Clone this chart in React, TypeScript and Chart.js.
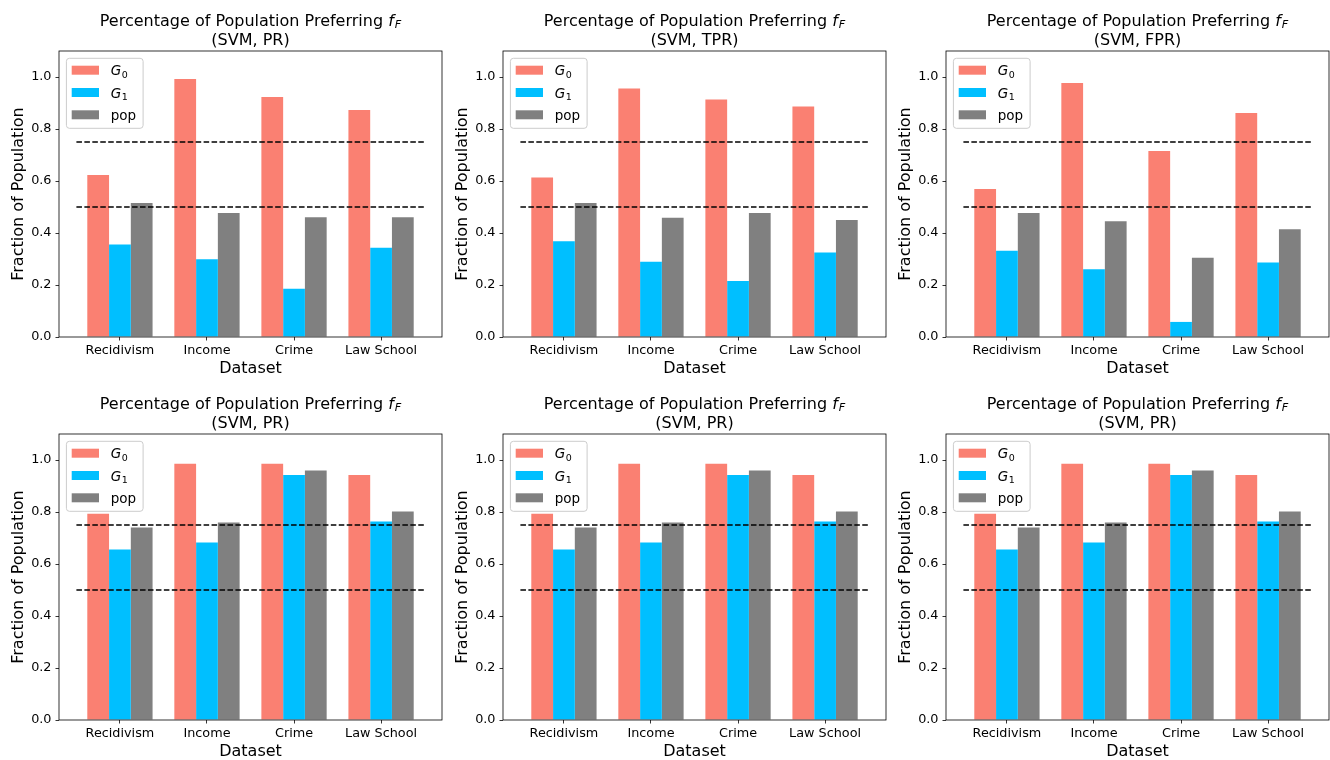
import { useEffect, useRef } from 'react';
import { Chart, registerables } from 'chart.js';

Chart.register(...registerables);

// ---- data ----
const CATEGORIES = ['Recidivism', 'Income', 'Crime', 'Law School'];
const CATEGORY_X = [0, 1, 2, 3];
const Y_TICKS = [0, 0.2, 0.4, 0.6, 0.8, 1.0];
const THRESHOLDS = [0.75, 0.5];
const THRESHOLD_SPAN = [-0.5, 3.5];
const X_RANGE = [-0.7, 3.7];
const Y_RANGE = [0, 1.1];

const PR_G0 = [0.623, 0.992, 0.923, 0.873];
const PR_G1 = [0.356, 0.299, 0.186, 0.343];
const PR_POP = [0.515, 0.477, 0.461, 0.461];

const TPR_G0 = [0.613, 0.956, 0.913, 0.887];
const TPR_G1 = [0.368, 0.289, 0.215, 0.325];
const TPR_POP = [0.515, 0.459, 0.477, 0.45];

const FPR_G0 = [0.569, 0.977, 0.715, 0.862];
const FPR_G1 = [0.332, 0.261, 0.058, 0.287];
const FPR_POP = [0.477, 0.445, 0.305, 0.414];

const PR2_G0 = [0.793, 0.986, 0.986, 0.942];
const PR2_G1 = [0.656, 0.683, 0.942, 0.763];
const PR2_POP = [0.74, 0.76, 0.96, 0.802];

const SERIES_COLORS = ['#FA8072', '#00BFFF', '#808080'];
const LEGEND_ITEMS = [
  { main: 'G', sub: '0', italic: true },
  { main: 'G', sub: '1', italic: true },
  { main: 'pop', sub: '', italic: false },
];

type Panel = { subtitle: string; g0: number[]; g1: number[]; pop: number[] };

const PANELS: Panel[] = [
  { subtitle: '(SVM, PR)', g0: PR_G0, g1: PR_G1, pop: PR_POP },
  { subtitle: '(SVM, TPR)', g0: TPR_G0, g1: TPR_G1, pop: TPR_POP },
  { subtitle: '(SVM, FPR)', g0: FPR_G0, g1: FPR_G1, pop: FPR_POP },
  { subtitle: '(SVM, PR)', g0: PR2_G0, g1: PR2_G1, pop: PR2_POP },
  { subtitle: '(SVM, PR)', g0: PR2_G0, g1: PR2_G1, pop: PR2_POP },
  { subtitle: '(SVM, PR)', g0: PR2_G0, g1: PR2_G1, pop: PR2_POP },
];

// ---- layout ----
const CANVAS_W = 444;
const CANVAS_H = 377;
const COL_LEFT = [0, 444, 887];
const ROW_TOP = [0, 383];
const FONT = '"DejaVu Sans", sans-serif';
const TICK_SIZE = 12.8;

function decorPlugin(subtitle: string) {
  return {
    id: 'panelDecor',
    afterDatasetsDraw(chart: any) {
      const { ctx, chartArea: a } = chart;
      ctx.save();

      // axes frame
      ctx.strokeStyle = '#000';
      ctx.lineWidth = 0.8;
      ctx.strokeRect(a.left, a.top, a.right - a.left, a.bottom - a.top);

      // legend
      const bx = a.left + 7.4;
      const by = a.top + 7.3;
      const bw = 76.7;
      const bh = 70;
      ctx.beginPath();
      ctx.roundRect(bx, by, bw, bh, 3);
      ctx.fillStyle = 'rgba(255,255,255,0.8)';
      ctx.fill();
      ctx.strokeStyle = '#cccccc';
      ctx.lineWidth = 1;
      ctx.stroke();
      const rows = [11.9, 34.2, 56.5];
      LEGEND_ITEMS.forEach((item, i) => {
        const cy = by + rows[i];
        ctx.fillStyle = SERIES_COLORS[i];
        ctx.fillRect(bx + 5.3, cy - 4.5, 27.3, 9);
        ctx.fillStyle = '#000';
        ctx.textBaseline = 'alphabetic';
        ctx.textAlign = 'left';
        let tx = bx + 44.3;
        ctx.font = `${item.italic ? 'italic ' : ''}13.5px ${FONT}`;
        ctx.fillText(item.main, tx, cy + 5);
        tx += ctx.measureText(item.main).width;
        if (item.sub) {
          ctx.font = `9.5px ${FONT}`;
          ctx.fillText(item.sub, tx + 0.5, cy + 7.3);
        }
      });

      // title
      const cx = (a.left + a.right) / 2;
      const main = 'Percentage of Population Preferring ';
      ctx.fillStyle = '#000';
      ctx.textAlign = 'left';
      ctx.textBaseline = 'alphabetic';
      ctx.font = `16px ${FONT}`;
      const w1 = ctx.measureText(main).width;
      ctx.font = `italic 16px ${FONT}`;
      const wf = ctx.measureText('f').width;
      ctx.font = `italic 11.2px ${FONT}`;
      const wF = ctx.measureText('F').width;
      let x = cx - (w1 + wf + wF + 1) / 2;
      const y1 = a.top - 25;
      ctx.font = `16px ${FONT}`;
      ctx.fillText(main, x, y1);
      x += w1;
      ctx.font = `italic 16px ${FONT}`;
      ctx.fillText('f', x, y1);
      x += wf + 1;
      ctx.font = `italic 11.2px ${FONT}`;
      ctx.fillText('F', x, y1 + 2);
      ctx.font = `16px ${FONT}`;
      ctx.textAlign = 'center';
      ctx.fillText(subtitle, cx, a.top - 6);

      ctx.restore();
    },
  };
}

function PanelChart({ panel }: { panel: Panel }) {
  const ref = useRef<HTMLCanvasElement>(null);
  useEffect(() => {
    if (!ref.current) return;
    const series = [panel.g0, panel.g1, panel.pop];
    const barSets = series.map((vals, i) => ({
      type: 'bar' as const,
      data: CATEGORY_X.map((x, j) => ({ x, y: vals[j] })),
      backgroundColor: SERIES_COLORS[i],
      borderWidth: 0,
      categoryPercentage: 0.75,
      barPercentage: 1,
      order: 1,
    }));
    const lineSets = THRESHOLDS.map((t) => ({
      type: 'line' as const,
      data: THRESHOLD_SPAN.map((x) => ({ x, y: t })),
      borderColor: '#000',
      borderWidth: 1.5,
      borderDash: [5.55, 2.4],
      pointRadius: 0,
      fill: false,
      order: 0,
    }));
    const chart = new Chart(ref.current, {
      type: 'bar',
      data: { datasets: [...barSets, ...lineSets] as any },
      options: {
        animation: false,
        responsive: false,
        layout: { padding: { top: 51, left: 0, right: 2, bottom: 0 } },
        plugins: { legend: { display: false }, tooltip: { enabled: false } },
        scales: {
          x: {
            type: 'linear',
            min: X_RANGE[0],
            max: X_RANGE[1],
            offset: false,
            afterBuildTicks: (s: any) => {
              s.ticks = CATEGORY_X.map((v) => ({ value: v }));
            },
            afterFit: (s: any) => {
              s.height = 40;
            },
            grid: {
              display: true,
              offset: false,
              drawOnChartArea: false,
              drawTicks: true,
              tickLength: 3.5,
              color: '#000',
              lineWidth: 0.8,
            },
            border: { display: false },
            ticks: {
              autoSkip: false,
              maxRotation: 0,
              padding: 2.4,
              color: '#000',
              font: { family: FONT, size: TICK_SIZE },
              callback: (v: any) => CATEGORIES[CATEGORY_X.indexOf(Number(v))] ?? '',
            },
            title: {
              display: true,
              text: 'Dataset',
              color: '#000',
              font: { family: FONT, size: 16, lineHeight: 1.0 },
              padding: { top: 0, bottom: 0 },
            },
          },
          y: {
            type: 'linear',
            min: Y_RANGE[0],
            max: Y_RANGE[1],
            afterBuildTicks: (s: any) => {
              s.ticks = Y_TICKS.map((v) => ({ value: v }));
            },
            afterFit: (s: any) => {
              s.width = 59;
            },
            grid: {
              display: true,
              drawOnChartArea: false,
              drawTicks: true,
              tickLength: 3.5,
              color: '#000',
              lineWidth: 0.8,
            },
            border: { display: false },
            ticks: {
              padding: 4,
              color: '#000',
              font: { family: FONT, size: TICK_SIZE },
              callback: (v: any) => Number(v).toFixed(1),
            },
            title: {
              display: true,
              text: 'Fraction of Population',
              color: '#000',
              font: { family: FONT, size: 16, lineHeight: 1.2 },
              padding: { top: 8.8, bottom: 0 },
            },
          },
        },
      } as any,
      plugins: [decorPlugin(panel.subtitle)],
    });
    return () => chart.destroy();
  }, [panel]);
  return <canvas ref={ref} width={CANVAS_W} height={CANVAS_H} style={{ display: 'block' }} />;
}

export default function App() {
  return (
    <div
      style={{
        position: 'fixed',
        left: 0,
        top: 0,
        width: 1330,
        height: 760,
        background: '#fff',
        overflow: 'hidden',
      }}
    >
      {PANELS.map((p, i) => (
        <div
          key={i}
          style={{
            position: 'absolute',
            left: COL_LEFT[i % 3],
            top: ROW_TOP[Math.floor(i / 3)],
            width: CANVAS_W,
            height: CANVAS_H,
          }}
        >
          <PanelChart panel={p} />
        </div>
      ))}
    </div>
  );
}
